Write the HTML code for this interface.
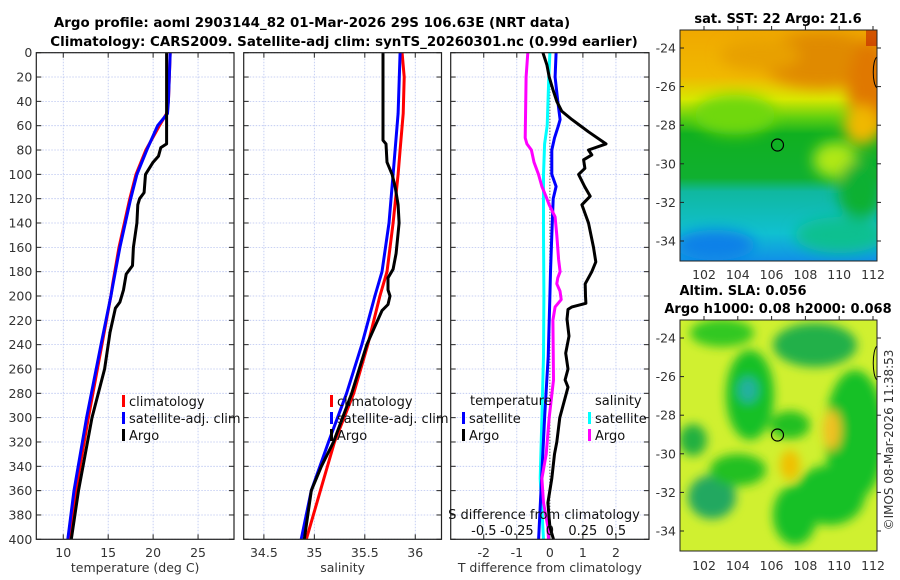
<!DOCTYPE html>
<html><head><meta charset="utf-8"><style>
html,body{margin:0;padding:0;background:#fff;}
svg{display:block;font-family:"DejaVu Sans","Liberation Sans",sans-serif;}
</style></head><body>
<svg id="fig" width="900" height="580" viewBox="0 0 900 580" xmlns="http://www.w3.org/2000/svg">
<defs>
<filter id="bl" x="-50%" y="-50%" width="200%" height="200%"><feGaussianBlur stdDeviation="7"/></filter>
<filter id="bl2" x="-50%" y="-50%" width="200%" height="200%"><feGaussianBlur stdDeviation="5"/></filter>
<clipPath id="c1"><rect x="680" y="30" width="197" height="231"/></clipPath>
<clipPath id="c2"><rect x="680" y="320" width="197" height="231"/></clipPath>
<linearGradient id="sstg" x1="0" y1="0" x2="0" y2="1">
<stop offset="0" stop-color="#f0a800"/><stop offset="0.2" stop-color="#f0b800"/><stop offset="0.3" stop-color="#d8e800"/>
<stop offset="0.38" stop-color="#60d010"/><stop offset="0.45" stop-color="#10b020"/><stop offset="0.64" stop-color="#10b030"/><stop offset="0.7" stop-color="#10b8a0"/>
<stop offset="0.88" stop-color="#10c0d0"/><stop offset="1" stop-color="#1090e8"/></linearGradient>
</defs>
<text x="312" y="27" text-anchor="middle" font-size="13.4" font-weight="bold">Argo profile: aoml 2903144_82 01-Mar-2026 29S 106.63E (NRT data)</text>
<text x="344" y="46" text-anchor="middle" font-size="13.4" font-weight="bold">Climatology: CARS2009. Satellite-adj clim: synTS_20260301.nc (0.99d earlier)</text>
<g id="plots"></g>

<!-- SST map -->
<g>
<text x="778" y="23" text-anchor="middle" font-size="13" font-weight="bold">sat. SST: 22 Argo: 21.6</text>
<g clip-path="url(#c1)">
<rect x="680" y="30" width="197" height="231" fill="url(#sstg)"/>
<g filter="url(#bl)">
<ellipse cx="820" cy="60" rx="60" ry="28" fill="#e08a00"/>
<ellipse cx="760" cy="55" rx="40" ry="16" fill="#e8a000"/>
<ellipse cx="870" cy="90" rx="22" ry="50" fill="#e07800"/>
<ellipse cx="735" cy="115" rx="40" ry="20" fill="#70d810"/>
<ellipse cx="835" cy="160" rx="22" ry="18" fill="#b0e818"/>
<ellipse cx="862" cy="125" rx="18" ry="20" fill="#f0b800"/>
<ellipse cx="860" cy="190" rx="22" ry="30" fill="#10b030"/>
<ellipse cx="715" cy="245" rx="40" ry="15" fill="#1080e8"/>
<ellipse cx="840" cy="235" rx="45" ry="18" fill="#10c090"/>
</g>
<rect x="866" y="30" width="11" height="16" fill="#c02000" opacity="0.6"/>
</g>
<ellipse cx="777.5" cy="145" rx="6" ry="6" fill="none" stroke="#000" stroke-width="1.2"/>
<path d="M877 57 C872 60 872 84 877 88" fill="none" stroke="#000" stroke-width="1"/>
<rect x="680" y="30" width="197" height="231" fill="none" stroke="#222" stroke-width="1"/>
<g id="m1ticks"></g>
</g>

<!-- SLA map -->
<g>
<text x="743" y="295" text-anchor="middle" font-size="13" font-weight="bold">Altim. SLA: 0.056</text>
<text x="778" y="313" text-anchor="middle" font-size="13" font-weight="bold">Argo h1000: 0.08 h2000: 0.068</text>
<g clip-path="url(#c2)">
<rect x="680" y="320" width="197" height="231" fill="#d0f030"/>
<g filter="url(#bl2)">
<ellipse cx="722" cy="333" rx="32" ry="14" fill="#30c820"/>
<ellipse cx="815" cy="345" rx="42" ry="22" fill="#20b048"/>
<ellipse cx="750" cy="395" rx="24" ry="45" fill="#18c028"/>
<ellipse cx="748" cy="390" rx="10" ry="13" fill="#20b0a0"/>
<ellipse cx="693" cy="440" rx="14" ry="16" fill="#20b040"/>
<ellipse cx="712" cy="497" rx="24" ry="22" fill="#20a860"/>
<ellipse cx="855" cy="435" rx="30" ry="65" fill="#18c028"/>
<ellipse cx="830" cy="495" rx="35" ry="30" fill="#18c028"/>
<ellipse cx="795" cy="515" rx="22" ry="30" fill="#18c028"/>
<ellipse cx="790" cy="425" rx="20" ry="14" fill="#20c020"/>
<ellipse cx="738" cy="470" rx="28" ry="16" fill="#20c020"/>
<ellipse cx="790" cy="465" rx="10" ry="15" fill="#f0c000"/>
<ellipse cx="832" cy="430" rx="9" ry="20" fill="#f0c020"/>
</g>
</g>
<ellipse cx="777.5" cy="435" rx="6" ry="6" fill="none" stroke="#000" stroke-width="1.2"/>
<path d="M877 346 C872 350 872 376 877 380" fill="none" stroke="#000" stroke-width="1"/>
<rect x="680" y="320" width="197" height="231" fill="none" stroke="#222" stroke-width="1"/>
<g id="m2ticks"></g>
</g>
<text transform="translate(893,440) rotate(-90)" text-anchor="middle" font-size="12" fill="#333">©IMOS 08-Mar-2026 11:38:53</text>
</svg>
<script>
// ---- data ----
const tempClimDepth=[0,40,50,60,80,100,120,130,160,190,200,240,300,360,400];
const tempClim=[21.9,21.7,21.5,20.7,19.2,18.1,17.4,17.1,16.2,15.5,15.3,14.3,12.8,11.4,10.7];
const tempSatDepth=[0,40,50,60,80,100,120,130,160,190,200,240,300,360,400];
const tempSat=[21.9,21.7,21.6,20.5,19.3,18.2,17.5,17.2,16.3,15.55,15.3,14.2,12.6,11.2,10.5];
const tempArgoDepth=[0,72,75,78,85,90,100,115,120,125,140,160,175,182,195,205,210,230,260,300,340,360,400];
const tempArgo=[21.5,21.5,21.5,20.85,20.6,20.0,19.15,19.0,18.5,18.3,18.2,17.8,17.7,17.0,16.7,16.3,15.8,15.2,14.6,13.2,12.2,11.7,10.9];
const salClimDepth=[0,20,50,80,100,140,180,200,240,280,320,360,400];
const salClim=[35.87,35.89,35.88,35.85,35.83,35.78,35.72,35.65,35.53,35.39,35.2,35.06,34.92];
const salSatDepth=[0,50,100,140,180,200,240,280,320,360,400];
const salSat=[35.85,35.83,35.78,35.74,35.67,35.6,35.47,35.32,35.14,34.97,34.87];
const salArgoDepth=[0,72,75,90,100,110,125,140,165,178,185,195,200,207,212,240,280,320,340,360,400];
const salArgo=[35.68,35.68,35.71,35.72,35.77,35.8,35.83,35.84,35.81,35.78,35.73,35.73,35.75,35.73,35.67,35.52,35.37,35.19,35.07,34.97,34.9];
const dTSatDepth=[0,20,40,55,60,70,80,100,110,120,150,180,200,250,300,350,400];
const dTSat=[0.19,0.16,0.24,0.31,0.26,0.14,0.06,0.06,0.19,0.1,0.06,0.02,0,-0.05,-0.16,-0.25,-0.34];
const dTArgoDepth=[0,10,20,30,40,48,55,65,75,80,84,88,95,100,110,118,125,140,160,172,180,190,200,206,209,211,219,233,247,260,269,275,300,320,330,350,370,390,400];
const dTArgo=[-0.21,-0.09,-0.02,0.09,0.21,0.36,0.67,1.17,1.7,1.17,1.27,1.02,1.06,0.87,1.05,1.22,0.97,1.17,1.32,1.39,1.27,1.07,1.08,1.09,0.67,0.55,0.52,0.58,0.48,0.55,0.46,0.55,0.3,0.21,0.14,0.06,-0.06,0,0.11];
const dSSatDepth=[0,20,60,75,100,150,200,250,300,350,400];
const dSSat=[0,-0.008,-0.02,-0.04,-0.048,-0.048,-0.045,-0.048,-0.06,-0.073,-0.048];
const dSArgoDepth=[0,20,70,75,80,90,100,110,118,125,135,150,170,180,185,190,196,203,209,220,269,300,330,350,370,390,400];
const dSArgo=[-0.167,-0.18,-0.187,-0.174,-0.14,-0.12,-0.086,-0.06,-0.03,-0.005,0.04,0.053,0.066,0.078,0.06,0.053,0.077,0.086,0.04,0.023,0.028,-0.005,-0.028,-0.06,-0.048,-0.015,-0.01];
const depthTicks=[0,20,40,60,80,100,120,140,160,180,200,220,240,260,280,300,320,340,360,380,400];
const tempTicks=[10,15,20,25];
const salTicks=[34.5,35,35.5,36];
const dTTicks=[-2,-1,0,1,2];
const dSTickLabels=["-0.5","-0.25","0","0.25","0.5"];
const dSTicks=[-0.5,-0.25,0,0.25,0.5];
const lonTicks=[102,104,106,108,110,112];
const latTicks=[-24,-26,-28,-30,-32,-34];

// ---- axes ----
const NS="http://www.w3.org/2000/svg";
const Y0=52.7, Y1=539.3;
const yD=d=>Y0+(Y1-Y0)*d/400;
const lin=(a,b,p,q)=>v=>p+(v-a)*(q-p)/(b-a);
const xT=lin(7,29,36.3,234);
const xS=lin(34.3,36.26,243.7,441.5);
const xDT=lin(-3,3,450.7,649);
const xDS=v=>xDT(0)+v*132;
const g=document.getElementById('plots');
function el(tag,attrs,parent){const e=document.createElementNS(NS,tag);for(const k in attrs)e.setAttribute(k,attrs[k]);(parent||g).appendChild(e);return e;}
function panel(name,x0,x1,xs,ticks,labels,xlabel,showY){
  const p=el('g',{});
  
  
  ticks.forEach(t=>{el('line',{x1:xs(t),x2:xs(t),y1:Y0,y2:Y1,stroke:'#b8c4f0','stroke-width':0.8,'stroke-dasharray':'1.5,1.5'},p);});
  depthTicks.forEach(d=>{el('line',{x1:x0,x2:x1,y1:yD(d),y2:yD(d),stroke:'#b8c4f0','stroke-width':0.8,'stroke-dasharray':'1.5,1.5'},p);
    el('line',{x1:x0,x2:x0+5,y1:yD(d),y2:yD(d),stroke:'#222'},p);el('line',{x1:x1-5,x2:x1,y1:yD(d),y2:yD(d),stroke:'#222'},p);
    if(showY){const t=el('text',{x:x0-4,y:yD(d)+4.5,'text-anchor':'end','font-size':12.5,fill:'#333'},p);t.textContent=d;
      
      }
  });
  ticks.forEach((t,i)=>{el('line',{x1:xs(t),x2:xs(t),y1:Y1,y2:Y1-5,stroke:'#222'},p);el('line',{x1:xs(t),x2:xs(t),y1:Y0,y2:Y0+5,stroke:'#222'},p);
    if(labels){const tx=el('text',{x:xs(t),y:557,'text-anchor':'middle','font-size':12.5,fill:'#333'},p);tx.textContent=labels[i];
      
      }
  });
  if(xlabel){const tx=el('text',{x:(x0+x1)/2,y:572,'text-anchor':'middle','font-size':12.5,fill:'#333'},p);tx.textContent=xlabel;
    
    }
  return p;
}
function line(p,name,xs,vals,depths,color,w){
  const pts=vals.map((v,i)=>xs(v).toFixed(1)+','+yD(depths[i]).toFixed(1)).join(' ');
  const l=el('polyline',{points:pts,fill:'none',stroke:color,'stroke-width':w||3,'stroke-linejoin':'round'},p);
  
  
}
function frame(p,x0,x1){el('rect',{x:x0,y:Y0,width:x1-x0,height:Y1-Y0,fill:'none',stroke:'#222','stroke-width':1.2},p);}
function legend(p,x,y,items){items.forEach((it,i)=>{
  const yy=y+i*17;
  el('rect',{x:x,y:yy-11,width:3,height:12,fill:it[1]},p);
  const t=el('text',{x:x+7,y:yy,'font-size':13,fill:'#111'},p);t.textContent=it[0];
  
  
});}

const p1=panel('temperature-panel',36.3,234,xT,tempTicks,tempTicks,'temperature (deg C)',true);
line(p1,'temp-climatology-line',xT,tempClim,tempClimDepth,'#f00');
line(p1,'temp-satellite-line',xT,tempSat,tempSatDepth,'#00f');
line(p1,'temp-argo-line',xT,tempArgo,tempArgoDepth,'#000');
frame(p1,36.3,234);
legend(p1,122,406,[['climatology','#f00'],['satellite-adj. clim','#00f'],['Argo','#000']]);

const p2=panel('salinity-panel',243.7,441.5,xS,salTicks,salTicks,'salinity',false);
line(p2,'sal-climatology-line',xS,salClim,salClimDepth,'#f00');
line(p2,'sal-satellite-line',xS,salSat,salSatDepth,'#00f');
line(p2,'sal-argo-line',xS,salArgo,salArgoDepth,'#000');
frame(p2,243.7,441.5);
legend(p2,330,406,[['climatology','#f00'],['satellite-adj. clim','#00f'],['Argo','#000']]);

const p3=panel('difference-panel',450.7,649,xDT,dTTicks,dTTicks,'T difference from climatology',false);
el('line',{x1:xDT(0),x2:xDT(0),y1:Y0,y2:Y1,stroke:'#555','stroke-width':1.2,'stroke-dasharray':'1,2'},p3);
line(p3,'sal-sat-diff-line',xDS,dSSat,dSSatDepth,'#0ff');
line(p3,'temp-sat-diff-line',xDT,dTSat,dTSatDepth,'#00f');
line(p3,'sal-argo-diff-line',xDS,dSArgo,dSArgoDepth,'#f0f');
line(p3,'temp-argo-diff-line',xDT,dTArgo,dTArgoDepth,'#000');
frame(p3,450.7,649);
{const t=el('text',{x:470,y:405,'font-size':13,fill:'#111'},p3);t.textContent='temperature';
 
 
 const t2=el('text',{x:595,y:405,'font-size':13,fill:'#111'},p3);t2.textContent='salinity';
 
 }
legend(p3,462,423,[['satellite','#00f'],['Argo','#000']]);
legend(p3,588,423,[['satellite','#0ff'],['Argo','#f0f']]);
{const t=el('text',{x:544,y:519,'text-anchor':'middle','font-size':13,fill:'#111'},p3);t.textContent='S difference from climatology';
 
 
 dSTicks.forEach((v,i)=>{const tx=el('text',{x:xDS(v),y:535,'text-anchor':'middle','font-size':13,fill:'#111'},p3);tx.textContent=dSTickLabels[i];
 
 });}

// map ticks
function mapTicks(id,yTop,yBot){
  const m=document.getElementById(id);
  const xL=lin(102,112,704,873), yL=lin(-24,-34,yTop,yBot);
  lonTicks.forEach(v=>{el('line',{x1:xL(v),x2:xL(v),y1:yTop-18,y2:yTop-22,stroke:'#222'},m);
    const t=el('text',{x:xL(v),y:(id==='m1ticks'?279:570),'text-anchor':'middle','font-size':12.5,fill:'#333'},m);t.textContent=v;
    
    });
  latTicks.forEach(v=>{el('line',{x1:680,x2:684,y1:yL(v),y2:yL(v),stroke:'#222'},m);el('line',{x1:877,x2:881,y1:yL(v),y2:yL(v),stroke:'#222'},m);
    const t=el('text',{x:676,y:yL(v)+4.5,'text-anchor':'end','font-size':12.5,fill:'#333'},m);t.textContent=v;
    
    });
}
mapTicks('m1ticks',48,241);
mapTicks('m2ticks',338,531);
</script>
</body></html>
